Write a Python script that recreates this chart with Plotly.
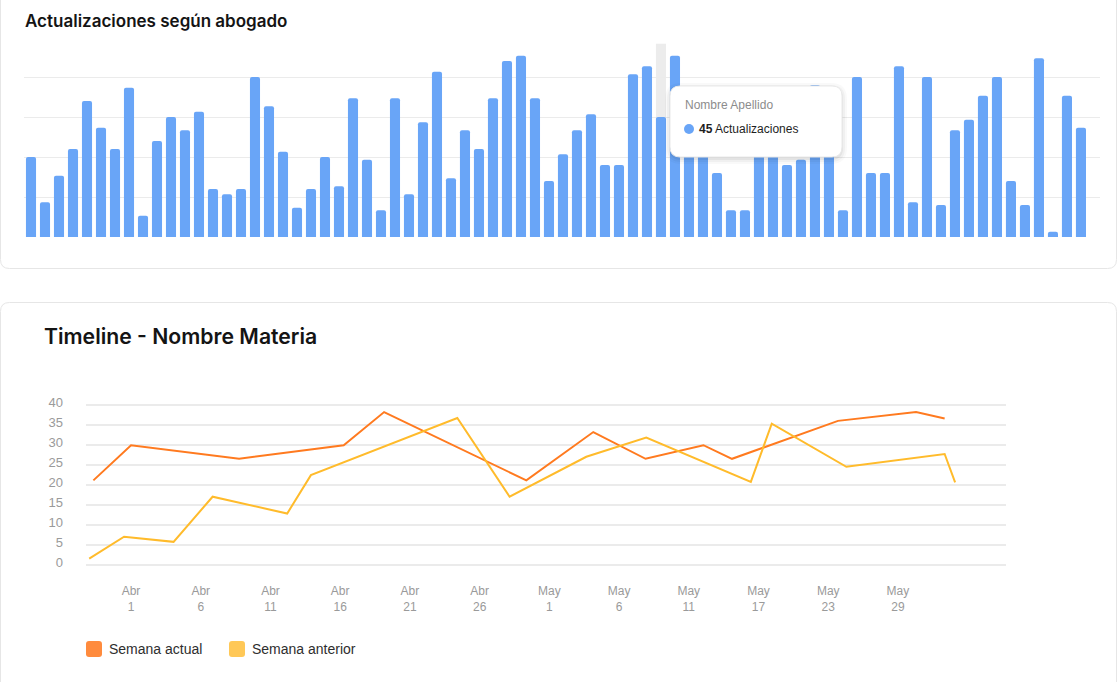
import plotly.graph_objects as go

W, H = 1118, 682  # design size in px (positions below are converted to paper fractions)

# ---------------- data ----------------
bar_title = "Actualizaciones según abogado"
lawyers = [f"Abogado {i+1}" for i in range(76)]
updates = [30, 13, 23, 33, 51, 41, 33, 56, 8, 36, 45, 40, 47, 18, 16, 18, 60, 49, 32, 11,
           18, 30, 19, 52, 29, 10, 52, 16, 43, 62, 22, 40, 33, 52, 66, 68, 52, 21, 31, 40,
           46, 27, 27, 61, 64, 45, 68, 50, 40, 24, 10, 10, 36, 33, 27, 29, 57, 38, 10, 60,
           24, 24, 64, 13, 60, 12, 40, 44, 53, 60, 21, 12, 67, 2, 53, 41]
hover_index = 45
hover_name = "Nombre Apellido"
hover_label = "Actualizaciones"

line_title = "Timeline - Nombre Materia"
tick_pos = list(range(12))
tick_text = ["Abr<br>1", "Abr<br>6", "Abr<br>11", "Abr<br>16", "Abr<br>21", "Abr<br>26",
             "May<br>1", "May<br>6", "May<br>11", "May<br>17", "May<br>23", "May<br>29"]
series_names = ["Semana actual", "Semana anterior"]
x_actual = [-0.54, 0.0, 1.55, 3.05, 3.63, 5.67, 6.63, 7.38, 8.21, 8.62, 10.14, 11.26, 11.67]
y_actual = [21.2, 30.0, 26.6, 30.0, 38.3, 21.2, 33.3, 26.6, 30.0, 26.6, 36.1, 38.3, 36.7]
x_anterior = [-0.60, -0.10, 0.61, 1.17, 2.24, 2.58, 4.68, 5.43, 6.53, 7.39, 8.89, 9.19, 10.26, 11.67, 11.82]
y_anterior = [1.6, 7.1, 5.8, 17.1, 12.9, 22.5, 36.8, 17.1, 27.1, 31.9, 20.8, 35.4, 24.6, 27.8, 20.7]

# ---------------- styles ----------------
BAR_COLOR = "#69A5F7"
LINE_COLORS = ["#FF7A1F", "#FFBB2B"]
LEGEND_COLORS = ["#FF8B3D", "#FFC857"]
GRID = "#EBEBEB"
SANS = "Liberation Sans, Arial, sans-serif"
TICK_FONT = dict(family=SANS, size=12, color="#9A9A9A")
TITLE_FONT = "Inter, Lato, sans-serif"


def px(x):
    return x / W


def py(y):
    return 1 - y / H


def rrect(x0, y0, x1, y1, r):
    pts = [
        ("M", [(x0 + r, y0)]), ("L", [(x1 - r, y0)]), ("Q", [(x1, y0), (x1, y0 + r)]),
        ("L", [(x1, y1 - r)]), ("Q", [(x1, y1), (x1 - r, y1)]), ("L", [(x0 + r, y1)]),
        ("Q", [(x0, y1), (x0, y1 - r)]), ("L", [(x0, y0 + r)]), ("Q", [(x0, y0), (x0 + r, y0)]),
    ]
    s = ""
    for cmd, coords in pts:
        s += cmd + " " + " ".join(f"{px(a):.6f},{py(b):.6f}" for a, b in coords) + " "
    return s + "Z"


fig = go.Figure()

fig.add_trace(go.Bar(
    x=list(range(len(updates))), y=updates, name=bar_title,
    marker=dict(color=BAR_COLOR, cornerradius=2, line=dict(width=0)),
    width=0.72, xaxis="x", yaxis="y", showlegend=False,
    hovertext=lawyers,
))

fig.add_trace(go.Scatter(x=x_actual, y=y_actual, mode="lines", name=series_names[0],
                         line=dict(color=LINE_COLORS[0], width=2), xaxis="x2", yaxis="y2",
                         showlegend=False))
fig.add_trace(go.Scatter(x=x_anterior, y=y_anterior, mode="lines", name=series_names[1],
                         line=dict(color=LINE_COLORS[1], width=2), xaxis="x2", yaxis="y2",
                         showlegend=False))

shapes = []
shapes.append(dict(type="path", xref="paper", yref="paper", path=rrect(0.5, -30, 1116.5, 268.5, 9),
                   line=dict(color="#E6E6E6", width=1), fillcolor="white", layer="below"))
shapes.append(dict(type="path", xref="paper", yref="paper", path=rrect(0.5, 302.5, 1116.5, 720, 9),
                   line=dict(color="#E6E6E6", width=1), fillcolor="white", layer="below"))
shapes.append(dict(type="rect", xref="x", yref="y", x0=hover_index - 0.36, x1=hover_index + 0.36,
                   y0=0, y1=72.5, fillcolor="#ECECEC", line=dict(width=0), layer="below"))
for d, a in [(6, 0.025), (4, 0.035), (2, 0.05)]:
    shapes.append(dict(type="path", xref="paper", yref="paper",
                       path=rrect(670 - d + 1, 86 - d + 3, 842 + d - 1, 157 + d + 1, 10 + d),
                       fillcolor=f"rgba(0,0,0,{a})", line=dict(width=0), layer="above"))
shapes.append(dict(type="path", xref="paper", yref="paper", path=rrect(670, 86, 842, 157, 10),
                   fillcolor="white", line=dict(color="#E9E9E9", width=1), layer="above"))
shapes.append(dict(type="circle", xref="paper", yref="paper", x0=px(684), x1=px(694),
                   y0=py(124), y1=py(134), fillcolor=BAR_COLOR, line=dict(width=0), layer="above"))
leg_x = [86, 229]
for i, name in enumerate(series_names):
    shapes.append(dict(type="path", xref="paper", yref="paper",
                       path=rrect(leg_x[i], 641, leg_x[i] + 16, 657, 3),
                       fillcolor=LEGEND_COLORS[i], line=dict(width=0), layer="above"))

annotations = [
    dict(text=bar_title, x=px(23), y=py(21), xref="paper", yref="paper", xanchor="left",
         yanchor="middle", showarrow=False,
         font=dict(family=TITLE_FONT, size=17, color="#141414", weight=600)),
    dict(text=line_title, x=px(42), y=py(336), xref="paper", yref="paper", xanchor="left",
         yanchor="middle", showarrow=False,
         font=dict(family=TITLE_FONT, size=21.2, color="#141414", weight=600)),
    dict(text=hover_name, x=px(683), y=py(105), xref="paper", yref="paper", xanchor="left",
         yanchor="middle", showarrow=False,
         font=dict(family=SANS, size=12, color="#8C8C8C")),
    dict(text=f"<b>{updates[hover_index]}</b> {hover_label}", x=px(697), y=py(129), xref="paper",
         yref="paper", xanchor="left", yanchor="middle", showarrow=False,
         font=dict(family=SANS, size=12, color="#1E1E1E")),
]
for i, name in enumerate(series_names):
    annotations.append(dict(text=name, x=px(leg_x[i] + 21), y=py(649), xref="paper", yref="paper",
                            xanchor="left", yanchor="middle", showarrow=False,
                            font=dict(family=SANS, size=14, color="#2E2E2E")))

fig.update_layout(
    autosize=True, margin=dict(l=0, r=0, t=0, b=0, autoexpand=False),
    paper_bgcolor="white", plot_bgcolor="rgba(0,0,0,0)",
    showlegend=False, bargap=0.28,
    shapes=shapes, annotations=annotations,
    xaxis=dict(domain=[px(24), px(1100)], range=[-0.5, 76.36], showticklabels=False,
               showgrid=False, zeroline=False, showline=False, ticks="", automargin=False),
    yaxis=dict(domain=[py(237), py(37)], range=[0, 75], tickvals=[15, 30, 45, 60],
               showticklabels=False, showgrid=True, gridcolor=GRID, gridwidth=1,
               zeroline=False, showline=False, ticks="", automargin=False),
    xaxis2=dict(domain=[px(86), px(1006)], range=[-0.646, 12.55], tickvals=tick_pos,
                ticktext=tick_text, showgrid=False, zeroline=False, showline=False, ticks="",
                tickfont=TICK_FONT, ticklabelstandoff=15, anchor="y2", automargin=False),
    yaxis2=dict(domain=[py(567), py(403.3)], range=[-0.5, 40.5], tickvals=list(range(0, 41, 5)),
                showgrid=True, gridcolor=GRID, gridwidth=2, zeroline=False, showline=False,
                ticks="", tickfont=dict(family=SANS, size=13, color="#9A9A9A"),
                ticklabelstandoff=22, ticklabelshift=-3, anchor="x2", automargin=False),
)

fig.write_html(
    "out.html", config={"displayModeBar": False, "responsive": True},
    default_width="100vw", default_height="100vh",
    post_script=("document.documentElement.style.margin='0px';"
                 "document.body.style.margin='0px';"
                 "document.documentElement.style.overflow='hidden';"
                 "document.body.style.overflow='hidden';"
                 "var g=document.getElementsByClassName('plotly-graph-div')[0];"
                 "g.style.position='fixed';g.style.left='0px';g.style.top='0px';"
                 "Plotly.Plots.resize(g);"))
